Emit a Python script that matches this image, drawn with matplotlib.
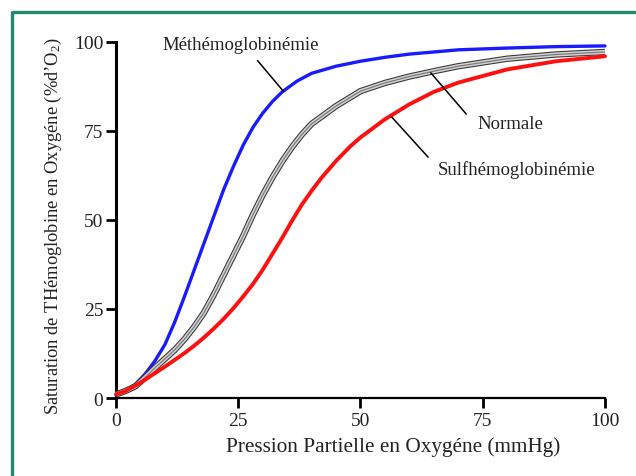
import matplotlib
matplotlib.use("Agg")
import matplotlib.pyplot as plt
from matplotlib.lines import Line2D

plt.rcParams['font.family'] = ['Liberation Serif', 'DejaVu Serif']
plt.rcParams['mathtext.fontset'] = 'custom'
plt.rcParams['mathtext.rm'] = 'Liberation Serif'
plt.rcParams['mathtext.it'] = 'Liberation Serif:italic'

# --- data ---
pressure_met = [0, 2, 4, 6, 8, 10, 12, 14, 16, 18, 20, 22, 24, 26, 28, 30, 32, 34, 37, 40,
                45, 50, 55, 60, 70, 80, 90, 100]
sat_met = [1, 2, 3.9, 6.8, 10.5, 15, 21.3, 28.5, 36, 43.5, 51, 58.5, 65, 71, 76, 80, 83.3, 86,
           89, 91.2, 93.2, 94.6, 95.7, 96.6, 97.8, 98.3, 98.7, 98.9]

pressure_norm = [0, 2, 4, 6, 8, 10, 12, 14, 16, 18, 20, 22, 24, 26, 28, 30, 32, 34, 36, 38,
                 40, 45, 50, 55, 60, 65, 70, 80, 90, 100]
sat_norm = [1, 2, 3.3, 5.8, 8.5, 11, 13.5, 16.5, 20, 24, 29, 34.5, 40, 45.5, 51.5, 57, 62,
            66.5, 70.5, 74, 77, 82, 86.2, 88.5, 90.3, 91.8, 93.2, 95.3, 96.5, 97.2]

pressure_sulf = [0, 2, 4, 6, 8, 10, 12, 14, 16, 18, 20, 22, 24, 26, 28, 30, 32, 34, 36, 38,
                 40, 42, 45, 48, 50, 55, 60, 65, 70, 80, 90, 100]
sat_sulf = [1, 2, 3.5, 5.2, 7, 8.8, 10.7, 12.6, 14.7, 17, 19.5, 22.2, 25.2, 28.5, 32, 36,
            40.5, 45, 49.8, 54.3, 58.2, 61.8, 66.6, 70.8, 73.2, 78.3, 82.5, 86, 88.6, 92.3,
            94.6, 96]

ticks = [0, 25, 50, 75, 100]
tick_labels = ['0', '25', '50', '75', '100']

labels = ['Méthémoglobinémie', 'Normale', 'Sulfhémoglobinémie']
label_pos = [(25.4, 99.4), (80.6, 77.2), (82.0, 64.3)]
leader_from = [(29.0, 94.7), (64.4, 91.3), (56.4, 78.9)]
leader_to = [(34.2, 86.2), (71.6, 79.8), (63.8, 67.7)]

fig = plt.figure(figsize=(6.36, 4.77), dpi=100)
fig.patch.set_facecolor('white')

# teal frame (top and left edges visible)
teal = '#1f8a72'
fig.add_artist(Line2D([11.5/636, 11.5/636], [0, 1 - 12/477], transform=fig.transFigure,
                      color=teal, lw=2.4, solid_capstyle='butt'))
fig.add_artist(Line2D([11.5/636, 1.0], [1 - 12.5/477, 1 - 12.5/477], transform=fig.transFigure,
                      color=teal, lw=2.4, solid_capstyle='butt'))

ax = fig.add_axes([116/636, 1 - 399/477, (605 - 116)/636, (399 - 43)/477])
ax.set_xlim(0, 100)
ax.set_ylim(0, 100)

# curves
kw = dict(clip_on=False, solid_joinstyle='round')
ax.plot(pressure_met, sat_met, color='#1a1aff', lw=2.4, zorder=3,
        solid_capstyle='round', **kw)
ax.plot(pressure_norm, sat_norm, color='#3a3a3a', lw=4.6, zorder=3,
        solid_capstyle='butt', **kw)
ax.plot(pressure_norm, sat_norm, color='#d4d4d4', lw=3.0, zorder=3,
        solid_capstyle='butt', **kw)
ax.plot(pressure_norm, sat_norm, color='#7a7a7a', lw=0.9, zorder=3,
        solid_capstyle='butt', **kw)
ax.plot(pressure_sulf, sat_sulf, color='#ff1010', lw=2.8, zorder=4,
        solid_capstyle='round', **kw)

# annotations
for lab, pos, p0, p1 in zip(labels, label_pos, leader_from, leader_to):
    ax.text(pos[0], pos[1], lab, ha='center', va='center', fontsize=13.5, color='#222222')
    ax.plot([p0[0], p1[0]], [p0[1], p1[1]], color='black', lw=1.1, zorder=5)

# axes styling
for s in ['top', 'right']:
    ax.spines[s].set_visible(False)
ax.spines['left'].set_linewidth(2.2)
ax.spines['bottom'].set_linewidth(1.6)
ax.set_xticks(ticks)
ax.set_xticklabels(tick_labels)
ax.set_yticks(ticks)
ax.set_yticklabels(tick_labels)
ax.tick_params(axis='both', direction='out', length=7, width=2.0, labelsize=14,
               colors='black', labelcolor='#222222')
ax.tick_params(axis='x', pad=3)
ax.tick_params(axis='y', pad=2)

ax.set_xlabel('Pression Partielle en Oxygéne (mmHg)', fontsize=15.3, color='#222222',
              labelpad=5, x=0.566)
ax.set_ylabel('Saturation de THémoglobine en Oxygéne (%d’O$_2$)', fontsize=13.3,
              color='#222222', labelpad=7, y=0.486)

fig.savefig('out.png', dpi=100)
